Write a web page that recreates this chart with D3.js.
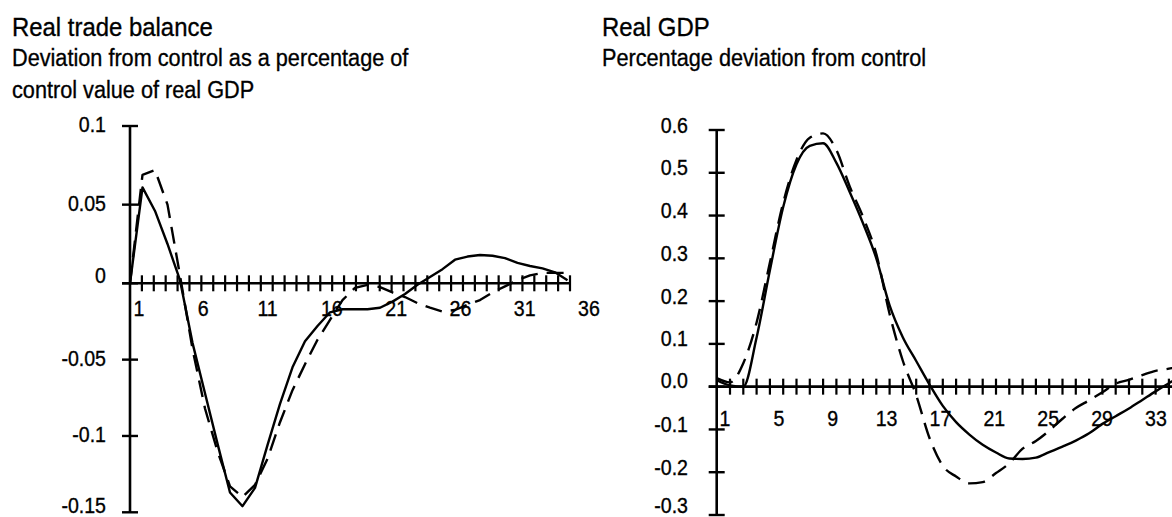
<!DOCTYPE html>
<html><head><meta charset="utf-8">
<script src="https://cdn.jsdelivr.net/npm/d3@7"></script>
<style>
body{margin:0;background:#fff}
svg{display:block}
text{font-family:"Liberation Sans", Arial, Helvetica, sans-serif; fill:#000; stroke:#000; stroke-width:0.35px}
</style>
</head><body>
<svg id="c" width="1172" height="517"></svg>
<script>
// ---------- Left panel: Real trade balance ----------
const tbQuarters = [0,1,2,3,4,5,6,7,8,9,10,11,12,13,14,15,16,17,18,19,20,21,22,23,24,25,26,27,28,29,30,31,32,33,34,35];
const tbSolid = [0, 0.061, 0.046, 0.025, 0.002, -0.039, -0.072, -0.105, -0.137, -0.146, -0.134, -0.106, -0.079, -0.055, -0.038, -0.028, -0.019, -0.017, -0.017, -0.017, -0.016, -0.012, -0.007, -0.001, 0.004, 0.009, 0.015, 0.017, 0.018, 0.0175, 0.016, 0.013, 0.011, 0.0095, 0.007, 0.002];
const tbDashed = [0, 0.069, 0.072, 0.050, 0.005, -0.043, -0.082, -0.110, -0.133, -0.140, -0.132, -0.115, -0.091, -0.070, -0.053, -0.037, -0.024, -0.011, -0.003, -0.001, -0.0025, -0.006, -0.009, -0.013, -0.016, -0.0185, -0.0175, -0.014, -0.011, -0.006, -0.002, 0.002, 0.005, 0.0066, 0.0066, 0.0066];
const tbYTicks = [0.1, 0.05, 0, -0.05, -0.1, -0.15];
const tbYLabels = ["0.1", "0.05", "0", "-0.05", "-0.1", "-0.15"];
const tbXLabels = [1, 6, 11, 16, 21, 26, 31, 36];
const tbMinorTicks = [1,2,3,4,5,6,7,8,9,10,11,12,13,14,15,16,17,18,19,20,21,22,23,24,25,26,27,28,29,30,31,32,33,34,35,36,37];
const tbTitle = ["Real trade balance"];
const tbSubtitle = ["Deviation from control as a percentage of", "control value of real GDP"];

// ---------- Right panel: Real GDP ----------
const gdpQuarters = [0,1,2,3,4,5,6,7,8,9,10,11,12,13,14,15,16,17,18,19,20,21,22,23,24,25,26,27,28,29,30,31,32,33,34,35];
const gdpSolid = [0.015, 0.003, 0.0, 0.115, 0.272, 0.42, 0.52, 0.563, 0.569, 0.523, 0.455, 0.382, 0.30, 0.19, 0.115, 0.06, 0.005, -0.045, -0.083, -0.112, -0.136, -0.154, -0.168, -0.169, -0.166, -0.153, -0.140, -0.126, -0.109, -0.087, -0.069, -0.051, -0.031, -0.011, 0.008, 0.025];
const gdpDashed = [0.02, 0.01, 0.055, 0.15, 0.29, 0.43, 0.53, 0.582, 0.592, 0.553, 0.468, 0.397, 0.31, 0.17, 0.06, -0.02, -0.12, -0.185, -0.21, -0.226, -0.223, -0.202, -0.179, -0.145, -0.127, -0.103, -0.075, -0.05, -0.032, -0.013, 0.007, 0.016, 0.027, 0.037, 0.042, 0.05];
const gdpYTicks = [0.6, 0.5, 0.4, 0.3, 0.2, 0.1, 0, -0.1, -0.2, -0.3];
const gdpYLabels = ["0.6", "0.5", "0.4", "0.3", "0.2", "0.1", "0.0", "-0.1", "-0.2", "-0.3"];
const gdpXLabels = [1, 5, 9, 13, 17, 21, 25, 29, 33];
const gdpMinorTicks = [1,2,3,4,5,6,7,8,9,10,11,12,13,14,15,16,17,18,19,20,21,22,23,24,25,26,27,28,29,30,31,32,33,34,35];
const gdpTitle = ["Real GDP"];
const gdpSubtitle = ["Percentage deviation from control"];

const svg = d3.select("#c");
svg.append("rect").attr("width", 1172).attr("height", 517).attr("fill", "#fff");

function txt(g, str, x, y, size, sx, anchor) {
  g.append("text")
    .attr("transform", `translate(${x},${y}) scale(${sx},1)`)
    .attr("font-size", size)
    .attr("text-anchor", anchor)
    .text(str);
}

function panel(cfg) {
  const g = svg.append("g");
  const x = d3.scaleLinear().domain(cfg.dataDomain).range(cfg.dataRange);
  const xt = d3.scaleLinear().domain(cfg.tickDomain).range(cfg.tickRange);
  const xl = d3.scaleLinear().domain(cfg.labelDomain).range(cfg.labelRange);
  const y = d3.scaleLinear().domain(cfg.yDomain).range(cfg.yRange);
  const ax = cfg.axisX, y0 = y(0);

  // titles
  cfg.title.forEach((t, i) => txt(g, t, cfg.titleX, 36, 26, 0.92, "start"));
  cfg.subtitle.forEach((t, i) => txt(g, t, cfg.titleX, 66 + i * 32, 24.5, 0.885, "start"));

  // y axis
  const yMax = d3.max(cfg.yTicks), yMin = d3.min(cfg.yTicks);
  g.append("line").attr("x1", ax).attr("x2", ax).attr("y1", y(yMax)).attr("y2", y(yMin))
    .attr("stroke", "#000").attr("stroke-width", 2.6);
  g.selectAll(".yt").data(cfg.yTicks).join("line")
    .attr("x1", ax - 8).attr("x2", ax + 8)
    .attr("y1", d => y(d)).attr("y2", d => y(d))
    .attr("stroke", "#000").attr("stroke-width", 2.4);
  cfg.yTicks.forEach((v, i) => {
    const base = Math.min(y(v) + (v === 0 ? cfg.zeroDy : cfg.labelDy), 513);
    txt(g, cfg.yLabels[i], cfg.yLabelX, base, 22, 0.89, "end");
  });

  // x axis
  g.append("line").attr("x1", ax - 8).attr("x2", cfg.xAxisEnd).attr("y1", y0).attr("y2", y0)
    .attr("stroke", "#000").attr("stroke-width", 2.6);
  g.selectAll(".xt").data(cfg.minorTicks).join("line")
    .attr("x1", d => xt(d)).attr("x2", d => xt(d))
    .attr("y1", y0 - 8).attr("y2", y0 + 8)
    .attr("stroke", "#000").attr("stroke-width", 2.2);
  cfg.xLabels.forEach(k => txt(g, String(k), xl(k), y0 + cfg.xLabelDy, 22, 0.89, "middle"));

  // series
  const line = d3.line().x((d, i) => x(cfg.quarters[i])).y(d => y(d)).curve(cfg.curve);
  g.append("path").attr("d", line(cfg.dashed)).attr("fill", "none").attr("stroke", "#000")
    .attr("stroke-width", 2.4).attr("stroke-dasharray", "17,9").attr("stroke-linejoin", "round");
  g.append("path").attr("d", line(cfg.solid)).attr("fill", "none").attr("stroke", "#000")
    .attr("stroke-width", 2.4).attr("stroke-linejoin", "round");
}

panel({
  title: tbTitle, subtitle: tbSubtitle, titleX: 12,
  quarters: tbQuarters, solid: tbSolid, dashed: tbDashed,
  dataDomain: [0, 35], dataRange: [130, 567.5],
  tickDomain: [0, 37], tickRange: [130, 570],
  labelDomain: [1, 36], labelRange: [139, 589],
  yDomain: [-0.15, 0, 0.1], yRange: [512.3, 283.3, 126],
  yTicks: tbYTicks, yLabels: tbYLabels, yLabelX: 106, labelDy: 6, zeroDy: 0,
  axisX: 130, xAxisEnd: 570, minorTicks: tbMinorTicks, xLabels: tbXLabels, xLabelDy: 33,
  curve: d3.curveLinear
});

panel({
  title: gdpTitle, subtitle: gdpSubtitle, titleX: 602,
  quarters: gdpQuarters, solid: gdpSolid, dashed: gdpDashed,
  dataDomain: [0, 34], dataRange: [716.7, 1168.9],
  tickDomain: [0, 34], tickRange: [716.7, 1168.9],
  labelDomain: [1, 33], labelRange: [725, 1156],
  yDomain: [-0.3, 0.6], yRange: [515, 130],
  yTicks: gdpYTicks, yLabels: gdpYLabels, yLabelX: 688, labelDy: 2.5, zeroDy: 1,
  axisX: 716.7, xAxisEnd: 1172, minorTicks: gdpMinorTicks, xLabels: gdpXLabels, xLabelDy: 39,
  curve: d3.curveMonotoneX
});
</script>
</body></html>
